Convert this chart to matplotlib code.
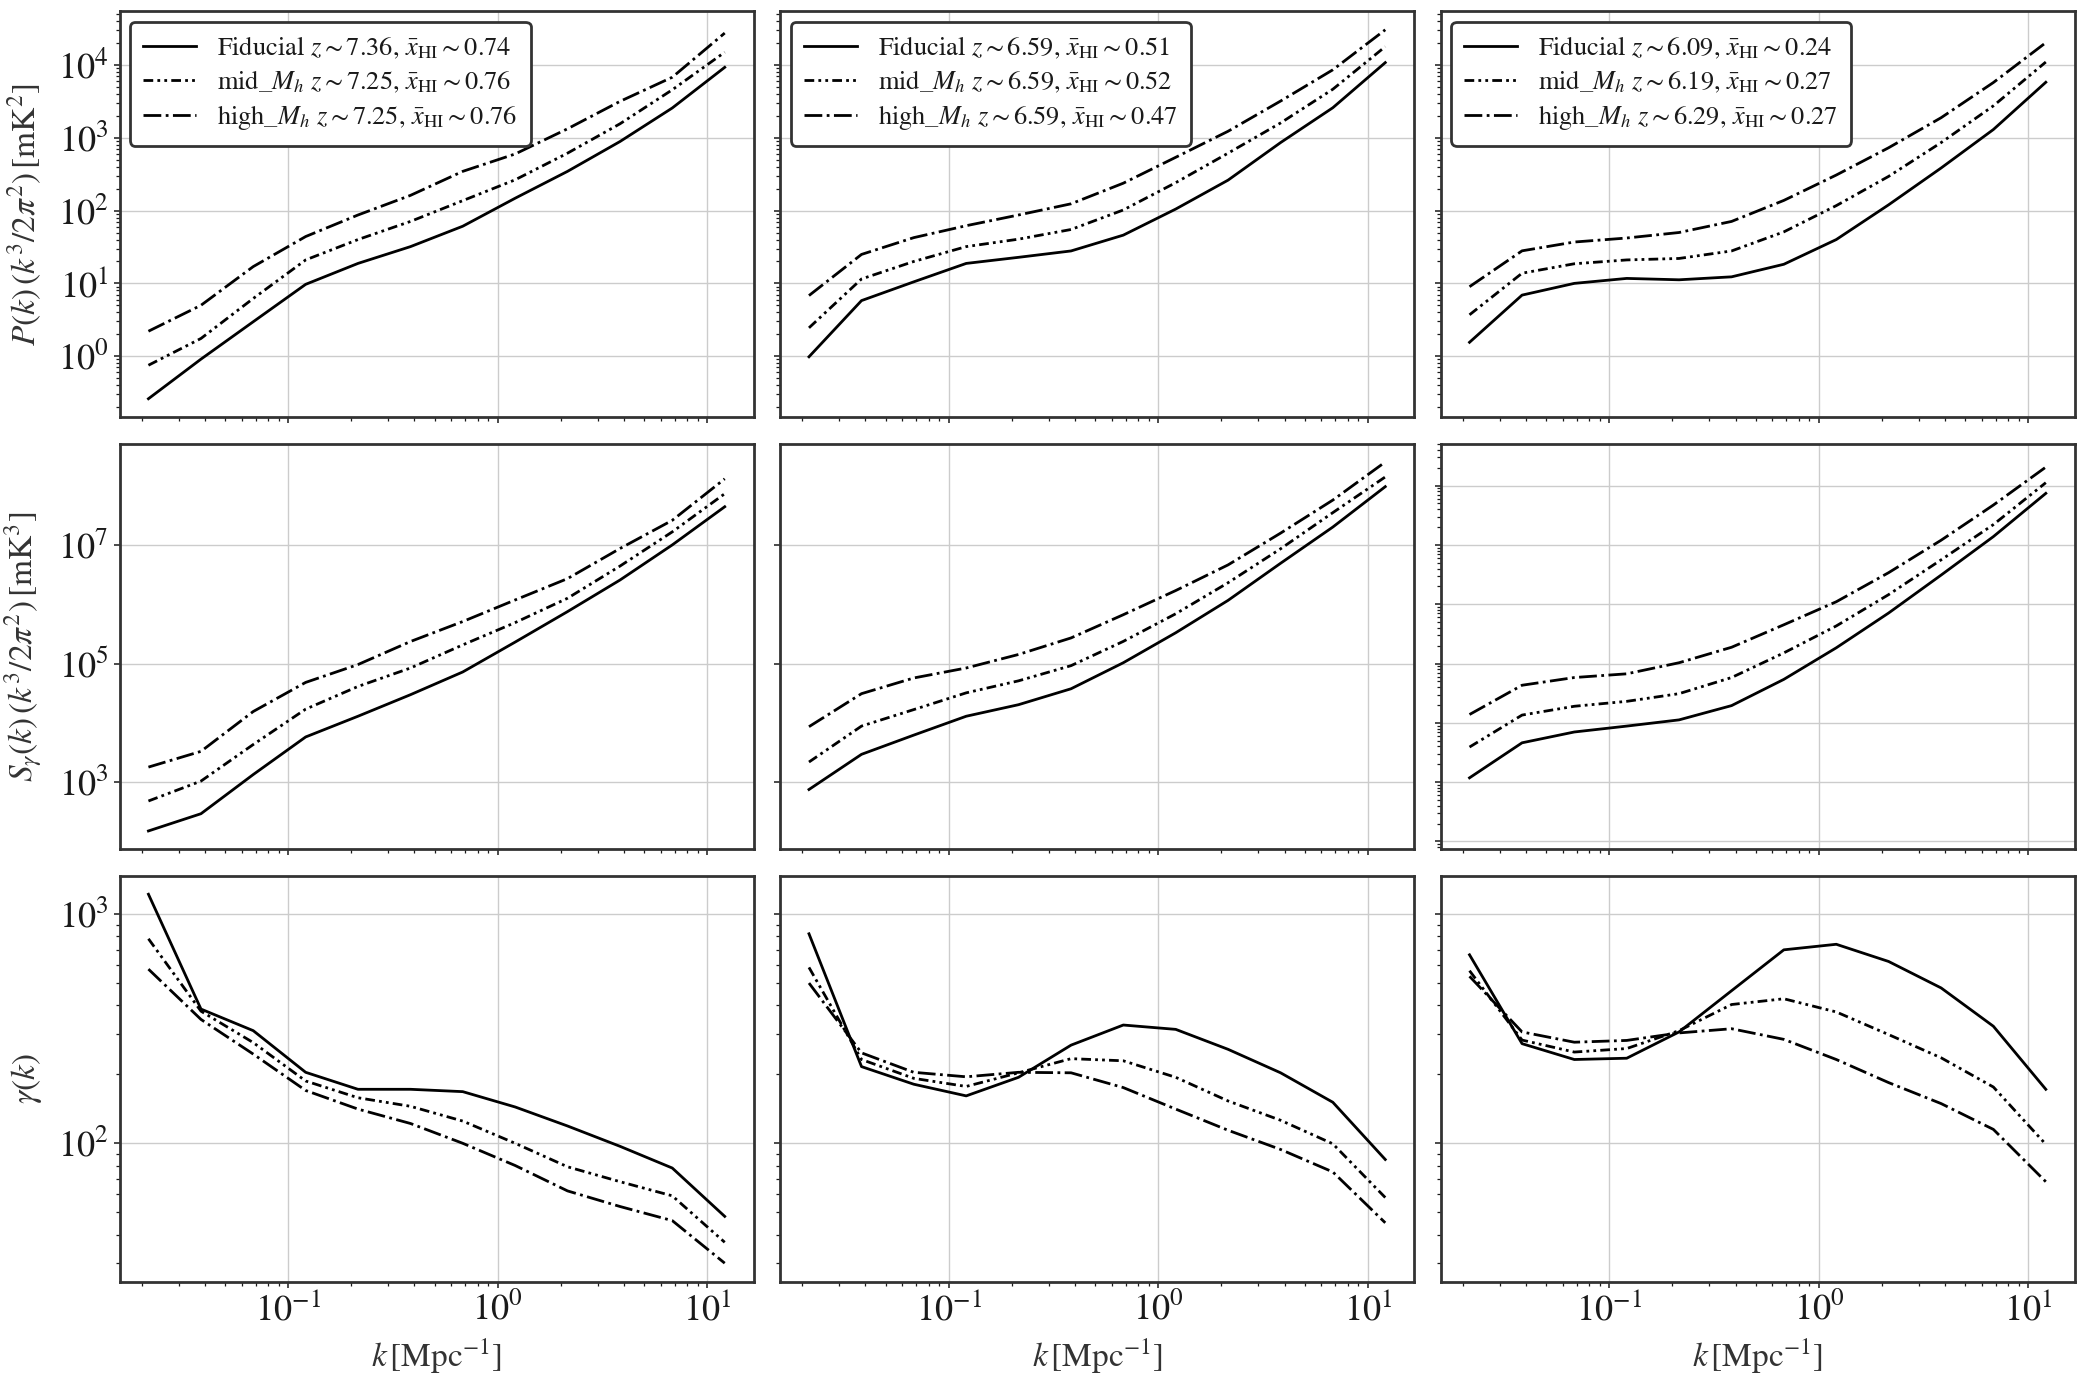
import numpy as np
import matplotlib
matplotlib.use("Agg")
import matplotlib.pyplot as plt
import matplotlib.ticker as mticker

# ---------------- data ----------------
k = [0.0215, 0.0383, 0.068, 0.121, 0.215, 0.383, 0.68, 1.21, 2.15, 3.83, 6.8, 12.1]

# power spectrum P(k) k^3/2pi^2 [mK^2], one list per redshift column
P_fid = [
    [0.26, 0.91, 2.97, 9.7, 18.8, 32, 61, 148, 346, 890, 2570, 9300],
    [0.98, 5.8, 10.5, 18.8, 22.8, 27.9, 46, 105, 262, 860, 2590, 10800],
    [1.55, 6.9, 10.0, 11.7, 11.2, 12.3, 18.3, 40, 120, 385, 1300, 5800],
]
P_mid = [
    [0.75, 1.75, 6.2, 21, 40, 71, 137, 265, 615, 1560, 4570, 15000],
    [2.45, 11.5, 20, 32, 40.5, 55, 102, 242, 615, 1600, 4650, 17900],
    [3.7, 13.8, 18.6, 21, 22, 27.9, 51, 117, 295, 860, 2750, 11000],
]
P_high = [
    [2.2, 5.0, 17, 44, 87, 162, 346, 600, 1330, 3170, 6800, 27500],
    [6.8, 25, 42.5, 62, 87, 124, 238, 540, 1230, 3200, 8600, 30500],
    [9.0, 28, 37, 42, 50, 71, 138, 308, 730, 1890, 5750, 20300],
]

# S_gamma(k) k^3/2pi^2 [mK^3]
S_fid = [
    [150, 293, 1340, 5770, 12900, 29800, 72000, 2.3e5, 7.5e5, 2.56e6, 1.0e7, 4.4e7],
    [750, 2940, 6200, 12900, 20200, 37500, 1.03e5, 3.3e5, 1.16e6, 4.9e6, 2.0e7, 9.6e7],
    [1180, 4600, 7000, 8800, 11200, 19500, 54000, 1.84e5, 7.1e5, 3.1e6, 1.38e7, 7.4e7],
]
S_mid = [
    [480, 1040, 4300, 17000, 41000, 84000, 2.06e5, 4.9e5, 1.26e6, 4.4e6, 1.66e7, 7.3e7],
    [2180, 8800, 16700, 32000, 51000, 92000, 2.36e5, 6.9e5, 2.3e6, 8.6e6, 3.5e7, 1.4e8],
    [3900, 13500, 19000, 23000, 31000, 58000, 1.51e5, 4.3e5, 1.45e6, 5.6e6, 2.2e7, 1.12e8],
]
S_high = [
    [1790, 3300, 15500, 48000, 96000, 2.35e5, 5.1e5, 1.18e6, 2.7e6, 8.7e6, 2.6e7, 1.3e8],
    [8600, 31000, 57000, 84000, 1.42e5, 2.7e5, 6.65e5, 1.7e6, 4.6e6, 1.58e7, 5.7e7, 2.5e8],
    [13800, 43000, 58000, 67000, 1.03e5, 1.88e5, 4.5e5, 1.1e6, 3.4e6, 1.2e7, 4.7e7, 2.05e8],
]

# gamma(k)
G_fid = [
    [1220, 385, 310, 204, 172, 172, 168, 144, 119, 97, 78, 48],
    [820, 216, 181, 161, 194, 268, 328, 314, 257, 203, 151, 85],
    [664, 272, 232, 235, 306, 463, 698, 738, 621, 476, 324, 172],
]
G_mid = [
    [780, 377, 275, 187, 158, 145, 125, 100, 79, 68, 59, 37],
    [585, 232, 192, 177, 203, 234, 229, 194, 153, 126, 99.5, 58],
    [566, 282, 250, 259, 310, 403, 427, 374, 298, 236, 176, 99],
]
G_high = [
    [575, 347, 245, 170, 141, 122, 100, 80, 62, 53, 46, 30],
    [500, 248, 204, 195, 204, 203, 175, 141, 114, 94, 75, 45],
    [535, 306, 276, 281, 303, 316, 284, 232, 184, 149, 115, 68],
]

model_names = ["Fiducial", "mid_$M_h$", "high_$M_h$"]
z_vals = [[7.36, 7.25, 7.25], [6.59, 6.59, 6.59], [6.09, 6.19, 6.29]]
xhi_vals = [[0.74, 0.76, 0.76], [0.51, 0.52, 0.47], [0.24, 0.27, 0.27]]

ylabels = [r"$P(k)\,(k^3/2\pi^2)\,[\mathrm{mK}^2]$",
           r"$S_\gamma(k)\,(k^3/2\pi^2)\,[\mathrm{mK}^3]$",
           r"$\gamma(k)$"]
xlabel = r"$k\,[\mathrm{Mpc}^{-1}]$"

# ---------------- style ----------------
plt.rcParams["font.family"] = ["STIXGeneral", "DejaVu Serif"]
plt.rcParams["mathtext.fontset"] = "stix"
dark = "#1a1a1a"
plt.rcParams.update({
    "text.color": dark, "axes.labelcolor": "#333333",
    "xtick.color": dark, "ytick.color": dark,
    "axes.edgecolor": "#333333", "axes.linewidth": 2.0,
    "xtick.labelsize": 26, "ytick.labelsize": 26,
    "axes.labelsize": 24,
    "xtick.major.size": 4.5, "ytick.major.size": 4.5,
    "xtick.minor.size": 2.8, "ytick.minor.size": 2.8,
    "xtick.major.width": 1.1, "ytick.major.width": 1.1,
    "xtick.minor.width": 0.9, "ytick.minor.width": 0.9,
})

styles = [dict(ls="-"),
          dict(ls=(0, (3.5, 1.5, 1, 1.5, 1, 1.5))),
          dict(ls="-.")]

fig = plt.figure(figsize=(20.84, 13.83), dpi=100)
axes = fig.subplots(3, 3, sharex=True)
fig.subplots_adjust(left=0.0574, right=0.9955, top=0.9918, bottom=0.0733,
                    wspace=0.042, hspace=0.065)

for r in (0, 2):
    axes[r, 1].sharey(axes[r, 0])
    axes[r, 2].sharey(axes[r, 0])
axes[1, 1].sharey(axes[1, 0])

data_rows = [(P_fid, P_mid, P_high), (S_fid, S_mid, S_high), (G_fid, G_mid, G_high)]

for r in range(3):
    for c in range(3):
        ax = axes[r, c]
        ax.set_xscale("log")
        ax.set_yscale("log")
        for m in range(3):
            lab = (model_names[m] + r" $z\sim%.2f$, $\bar{x}_{\rm HI}\sim%.2f$"
                   % (z_vals[c][m], xhi_vals[c][m]))
            ax.plot(k, data_rows[r][m][c], color="black", lw=2.0, label=lab,
                    **styles[m])
        ax.grid(True, which="major", color="#cccccc", lw=1.0)
        ax.set_axisbelow(True)
        if c > 0:
            ax.tick_params(axis="y", which="both", labelleft=False)
        if r == 2:
            ax.set_xlabel(xlabel, labelpad=6)
        if c == 0:
            ax.set_ylabel(ylabels[r], labelpad=10)
        if r == 0:
            leg = ax.legend(loc="upper left", fontsize=19, frameon=True,
                            fancybox=True, framealpha=1.0, edgecolor="#333333",
                            handlelength=2.0, borderaxespad=0.4,
                            labelspacing=0.3, borderpad=0.5)
            leg.get_frame().set_linewidth(2.0)

# middle row: shared limits for col 1 & 2, col 3 gets same limits but per-decade grid
axes[1, 0].yaxis.set_major_locator(mticker.LogLocator(base=10, subs=[1.0], numticks=5))
axes[1, 0].yaxis.set_minor_locator(mticker.NullLocator())
ylim_mid = axes[1, 0].get_ylim()
axes[1, 2].set_ylim(ylim_mid)
axes[1, 2].yaxis.set_major_locator(mticker.LogLocator(base=10, numticks=20))
axes[1, 2].yaxis.set_minor_locator(mticker.LogLocator(base=10, subs=np.arange(2, 10), numticks=20))

fig.savefig("out.png", dpi=100)
